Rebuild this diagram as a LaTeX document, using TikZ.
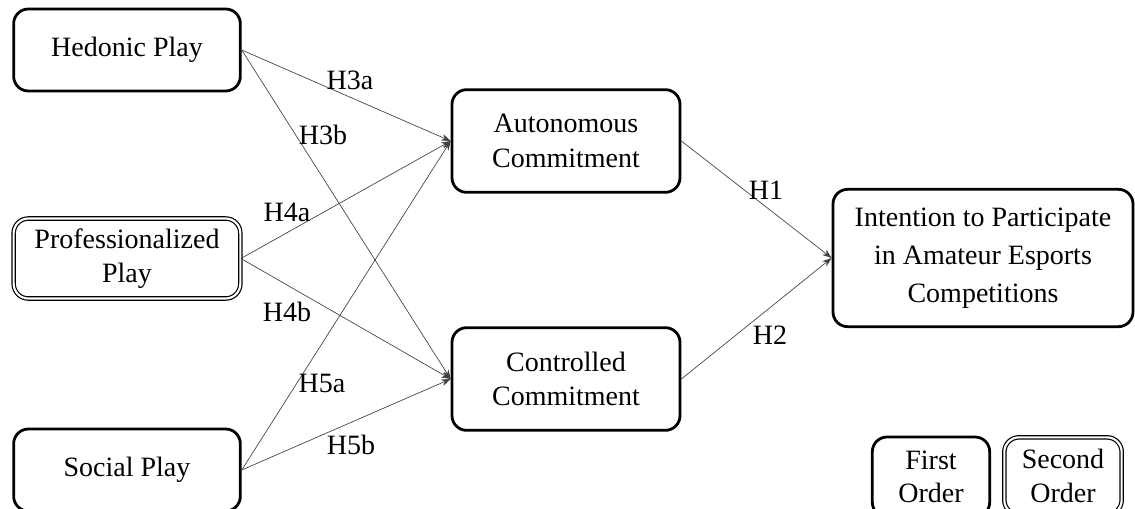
\documentclass[tikz,border=0pt]{standalone}
\usepackage{fontspec}
\setmainfont{Liberation Serif}
\usetikzlibrary{arrows.meta}

\begin{document}
\begin{tikzpicture}[x=0.75pt,y=-0.75pt,
    every node/.style = {align=center, font=\fontsize{21}{26}\selectfont},
    firstorder/.style = {shape=rectangle, rounded corners=11pt, draw,
      line width=2.1pt, inner sep=2pt},
    secondorder/.style = {shape=rectangle, rounded corners=11pt, draw,
      line width=0.9pt, double, double distance=1.6pt, inner sep=2pt},
    path/.style = {draw=black!75, line width=0.5pt,
      -{Stealth[length=7pt,width=5pt]}},
    hyp/.style = {inner sep=0pt}]
  \useasboundingbox (0,0) rectangle (1135,508);

    \node[firstorder, minimum width=170pt, minimum height=61.5pt] (hedonic) at (127,50) {Hedonic Play};
    \node[secondorder, minimum width=170pt, minimum height=60pt] (prof) at (127,258.5) {Professionalized\\Play};
    \node[firstorder, minimum width=170pt, minimum height=61.5pt] (social) at (127,470) {Social Play};
    \node[firstorder, minimum width=171pt, minimum height=77pt] (auto) at (566,141) {Autonomous\\Commitment};
    \node[firstorder, minimum width=171pt, minimum height=77pt] (ctrl) at (566,379) {Controlled\\Commitment};
    \node[firstorder, minimum width=225pt, minimum height=103pt,
      font=\fontsize{21}{28.5}\selectfont] (intent) at (983,258) {Intention to Participate\\in Amateur Esports\\Competitions};
    \node[firstorder, minimum width=88pt, minimum height=60pt,
      font=\fontsize{21}{25}\selectfont] (first) at (931,477) {First\\Order};
    \node[secondorder, minimum width=88pt, minimum height=58pt,
      font=\fontsize{21}{25}\selectfont] (second) at (1063,476) {Second\\Order};

    \draw[path] (hedonic.east) -- (auto.west);
    \draw[path] (hedonic.east) -- (ctrl.west);
    \draw[path] (prof.east) -- (auto.west);
    \draw[path] (prof.east) -- (ctrl.west);
    \draw[path] (social.east) -- (auto.west);
    \draw[path] (social.east) -- (ctrl.west);
    \draw[path] (auto.east) -- (intent.west);
    \draw[path] (ctrl.east) -- (intent.west);

    \node[hyp] (h3a) at (350,80) {H3a};
    \node[hyp] (h3b) at (323,135) {H3b};
    \node[hyp] (h4a) at (287,212) {H4a};
    \node[hyp] (h4b) at (287,312) {H4b};
    \node[hyp] (h5a) at (322,383) {H5a};
    \node[hyp] (h5b) at (351,445) {H5b};
    \node[hyp] (h1) at (766,190) {H1};
    \node[hyp] (h2) at (770,335) {H2};

  \end{tikzpicture}
\end{document}
